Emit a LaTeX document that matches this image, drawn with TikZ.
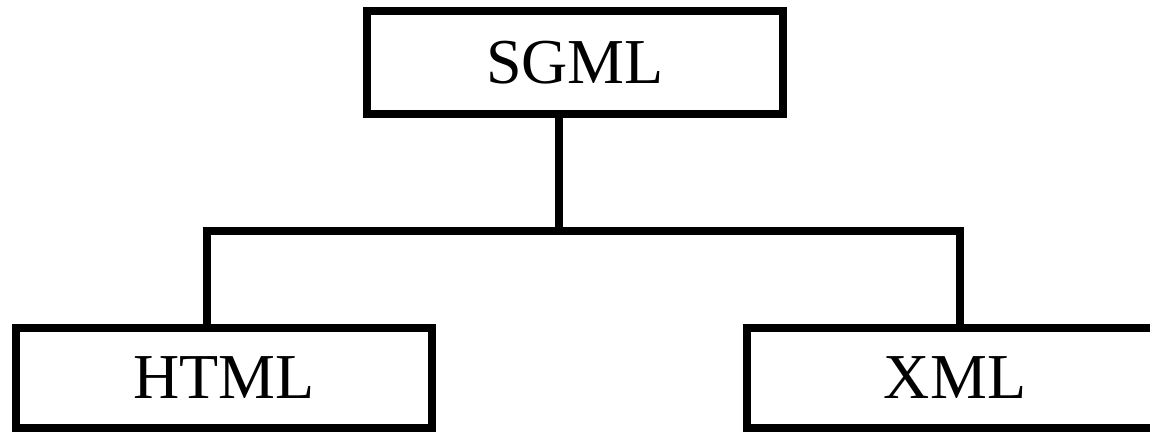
\documentclass[tikz,border=0pt]{standalone}
\usepackage{fontspec}
\setmainfont{Liberation Serif}
\begin{document}
\begin{tikzpicture}[x=1pt,y=-1pt,
  box/.style={draw=black,line width=8pt,minimum width=416pt,inner sep=0pt,
    font=\fontsize{64}{70}\selectfont},
  link/.style={draw=black,line width=8pt}]
  \clip (0,0) rectangle (1150,433);
  \useasboundingbox (0,0) rectangle (1150,433);
  % boxes
  \node[box,minimum height=103pt] (sgml) at (575,62.5) {SGML};
  \node[box,minimum height=100.5pt] (html) at (224,378) {HTML};
  \node[box,minimum height=100.5pt] (xml) at (955,378) {XML};
  % tree connectors
  \coordinate (hub) at (559,231);
  \coordinate (lt) at (207,231);
  \coordinate (rt) at (960,231);
  \draw[link] (hub |- sgml.south) -- (hub);
  \draw[link] (lt |- html.north) -- (lt) -- (rt) -- (rt |- xml.north);
\end{tikzpicture}
\end{document}
